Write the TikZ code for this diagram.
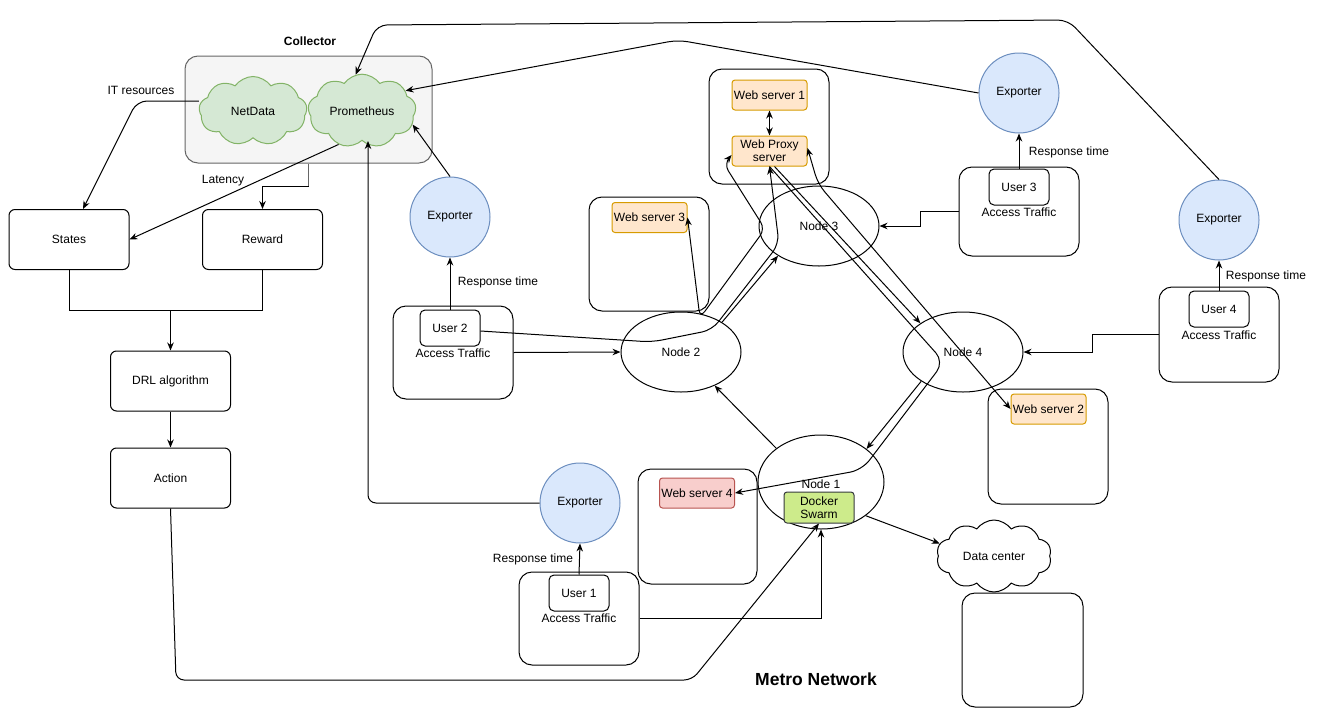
\documentclass[tikz,border=0pt]{standalone}
\usepackage{fontspec}
\setmainfont{Liberation Sans}
\usetikzlibrary{arrows.meta,shapes.symbols,shapes.geometric}
\definecolor{cgray}{HTML}{F5F5F5}
\definecolor{cgraystroke}{HTML}{666666}
\definecolor{gfill}{HTML}{D5E8D4}
\definecolor{gstroke}{HTML}{82B366}
\definecolor{bfill}{HTML}{DAE8FC}
\definecolor{bstroke}{HTML}{6C8EBF}
\definecolor{ofill}{HTML}{FFE6CC}
\definecolor{ostroke}{HTML}{D79B00}
\definecolor{rfill}{HTML}{F8CECC}
\definecolor{rstroke}{HTML}{B85450}
\definecolor{lgfill}{HTML}{CDEB8B}
\definecolor{lgstroke}{HTML}{36393D}
\begin{document}
\begin{tikzpicture}[x=1pt,y=-1pt,line width=1pt,
  font=\fontsize{12}{14}\selectfont,
  arr/.style={-{Stealth[length=8pt,width=6.5pt]}},
  darr/.style={{Stealth[length=8pt,width=6.5pt]}-{Stealth[length=8pt,width=6.5pt]}},
  rbox/.style={draw, rounded corners=6pt, minimum width=120pt, minimum height=60pt, inner sep=0pt},
  cont/.style={draw, rounded corners=13pt, inner sep=0pt},
  srv/.style={draw=ostroke, fill=ofill, rounded corners=3pt, minimum width=75pt, minimum height=30pt, inner sep=0pt, align=center, font=\fontsize{12}{13}\selectfont},
  usr/.style={draw, rounded corners=5pt, minimum width=60pt, minimum height=36pt, inner sep=0pt},
  expo/.style={circle, draw=bstroke, fill=bfill, minimum size=80pt, inner sep=0pt},
  ell/.style={ellipse, draw, minimum width=120pt, minimum height=80pt, inner sep=0pt},
  gcloud/.style={cloud, cloud puffs=9, cloud puff arc=110, aspect=1.5, draw=gstroke, fill=gfill, minimum width=108pt, minimum height=69pt, inner sep=0pt},
]
\useasboundingbox (0,0) rectangle (1317,723);
\fill[white] (0,0) rectangle (1317,723);

% ---------- Collector ----------
\node[cont, fill=cgray, draw=cgraystroke, minimum width=247pt, minimum height=107pt] (collector) at (308.5,109.5) {};
\node[font=\bfseries\fontsize{12}{14}\selectfont] (collab) at (310,41) {Collector};
\node[gcloud] (netdata) at (253,111) {NetData};
\node[gcloud] (prom) at (362,111) {Prometheus};
\node (itres) at (141,90) {IT resources};
\node (latency) at (223,181) {Latency};

% ---------- DRL side ----------
\node[rbox] (states) at (69,239.5) {States};
\node[rbox] (reward) at (262.5,239.5) {Reward};
\node[rbox] (drl) at (170.5,381) {DRL algorithm};
\node[rbox] (action) at (170.5,478) {Action};
\coordinate (jn) at (170.5,310);
\coordinate (cbend) at (308.5,186);

% ---------- Exporters ----------
\node[expo] (expm) at (450,217) {Exporter};
\node[expo] (expt) at (1019,93) {Exporter};
\node[expo] (expr) at (1219,220) {Exporter};
\node[expo] (expb) at (580,503) {Exporter};

% ---------- Users ----------
\node[cont, minimum width=120pt, minimum height=93pt] (u2out) at (453,352.5) {};
\node[usr] (u2) at (450,328) {User 2};
\node (u2lab) at (453,353) {Access Traffic};
\node[cont, minimum width=120pt, minimum height=89pt] (u3out) at (1019,211.5) {};
\node[usr] (u3) at (1019,187) {User 3};
\node (u3lab) at (1019,212) {Access Traffic};
\node[cont, minimum width=120pt, minimum height=95pt] (u4out) at (1219,334.5) {};
\node[usr] (u4) at (1219,309) {User 4};
\node (u4lab) at (1219,335) {Access Traffic};
\node[cont, minimum width=120pt, minimum height=93pt] (u1out) at (579,618.5) {};
\node[usr] (u1) at (579,593) {User 1};
\node (u1lab) at (579,618) {Access Traffic};
\node (rt2) at (498,282) {Response time};
\node (rt3) at (1069,152) {Response time};
\node (rt4) at (1266,276) {Response time};
\node (rt1) at (533,559) {Response time};

% ---------- Web servers ----------
\node[cont, minimum width=120pt, minimum height=115pt] (ws1c) at (769,126.5) {};
\node[srv] (ws1) at (769.5,95) {Web server 1};
\node[srv] (proxy) at (769.5,151) {Web Proxy\\server};
\node[cont, minimum width=120pt, minimum height=114pt] (ws3c) at (649,254) {};
\node[srv] (ws3) at (649.5,217.5) {Web server 3};
\node[cont, minimum width=120pt, minimum height=115pt] (ws2c) at (1048,446.5) {};
\node[srv] (ws2) at (1048.5,409) {Web server 2};
\node[cont, minimum width=119pt, minimum height=115pt] (ws4c) at (697.5,526.5) {};
\node[srv, draw=rstroke, fill=rfill] (ws4) at (697,493) {Web server 4};

% ---------- Network nodes ----------
\node[ell] (node3) at (819,226) {Node 3};
\node[ell] (node2) at (681,352) {Node 2};
\node[ell] (node4) at (963,352) {Node 4};
\node[ell, minimum width=126pt, minimum height=94pt] (node1) at (821,482) {};
\node (n1lab) at (821,484) {Node 1};
\node[draw=lgstroke, fill=lgfill, rounded corners=3pt, minimum width=70pt, minimum height=31pt, inner sep=0pt, align=center, font=\fontsize{12}{13}\selectfont] (docker) at (819,507.5) {Docker\\Swarm};

% ---------- Data center ----------
\node[cloud, cloud puffs=10, cloud puff arc=110, aspect=1.6, draw, minimum width=115pt, minimum height=72pt, inner sep=0pt] (dc) at (994,556) {Data center};
\node[cont, minimum width=121pt, minimum height=114pt] (dcbox) at (1022.5,650) {};
\node[font=\bfseries\fontsize{17.5}{20}\selectfont] (metro) at (816,679) {Metro Network};

% ---------- Edges: collector / DRL ----------
\draw[arr, rounded corners=10pt] ([yshift=10pt]netdata.west) -- (137,101) -- ([xshift=14pt]states.north);
\draw[arr] (prom.235) -- (states.east);
\draw[draw=cgraystroke, line width=1.5pt] (collector.south) -- (cbend);
\draw[arr] (cbend) -| (reward.north);
\draw (states.south) |- (jn);
\draw (reward.south) |- (jn);
\draw[arr] (jn) -- (drl.north);
\draw[arr] (drl) -- (action);
\draw[arr, rounded corners=8pt] (action.south) -- (176,680) -- (692,680) -- (docker.south);

% ---------- Edges: exporters ----------
\draw[arr] (u2.north) -- (expm.south);
\draw[arr] (u3.north) -- (expt.south);
\draw[arr] (u4.north) -- (expr.south);
\draw[arr] (u1.north) -- (expb.south);
\draw[arr] (expm.north) -- (prom.-15);
\draw[arr, rounded corners=10pt] (expt.west) -- (678,40) -- (prom.25);
\draw[arr, rounded corners=10pt] (expr.north) -- (1068,20) -- (377,25) -- (prom.100);
\draw[arr, rounded corners=8pt] (expb.west) -| ([xshift=6pt]prom.south);

% ---------- Edges: access traffic ----------
\draw[arr] (u2out.east) -- (node2.west);
\draw[arr] (u3out.west) -- (920,211.5) |- (node3.east);
\draw[arr] (u4out.west) -- (1092,334.5) |- (node4.east);
\draw[arr] (u1out.east) -| (node1.south);

% ---------- Edges: network ----------
\draw[darr] (ws1) -- (proxy);
\draw[arr] (node1.143) -- (node2.-45);
\draw[arr] (node4.215) -- (node1.36);
\draw[arr] (node2.36) -- (node3.216);
\draw[arr] ([xshift=5pt]proxy.south) -- (node4.146);
\draw[arr, rounded corners=12pt] (proxy.south) -- (944,362) -- (862,470) -- (ws4.east);
\draw[arr, rounded corners=10pt] ([yshift=-3pt]u2.east) -- (652,342) -- (712,330) -- (779,244) -- (proxy.south);
\draw[darr, rounded corners=8pt] ([yshift=-4pt]proxy.west) -- (724,164) -- (765,229) -- (700,318) -- (ws3.east);
\draw[darr, rounded corners=10pt] ([yshift=3pt]proxy.east) -- (818,184) -- (ws2.west);
\draw[arr] (node1.-37) -- (dc.167);
\end{tikzpicture}
\end{document}
